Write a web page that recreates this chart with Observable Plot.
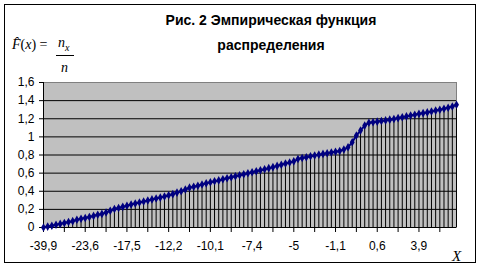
<!DOCTYPE html>
<html>
<head>
<meta charset="utf-8">
<script src="https://cdn.jsdelivr.net/npm/d3@7"></script>
<script src="https://cdn.jsdelivr.net/npm/@observablehq/plot@0.6"></script>
<style>
  body { margin: 0; background: #fff; }
  #chart { position: relative; width: 483px; height: 272px; overflow: hidden; font-family: Arial, "Liberation Sans", sans-serif; }
  #frame { position: absolute; left: 4px; top: 4px; width: 470px; height: 257px; border: 1px solid #000; pointer-events: none; }
  .title { position: absolute; left: 0; width: 542px; text-align: center; font-weight: bold; font-size: 14px; line-height: 16px; color: #000; }
  .math { position: absolute; font-family: "Liberation Serif", "Times New Roman", serif; font-style: italic; font-size: 14px; line-height: 16px; color: #000; white-space: nowrap; }
  .upright { font-style: normal; }
  #bar { position: absolute; left: 56px; top: 55px; width: 18px; height: 1px; background: #000; }
  #plot { position: absolute; left: 0; top: 72px; }
</style>
</head>
<body>
<div id="chart">
  <div class="title" style="top:12px">Рис. 2 Эмпирическая функция</div>
  <div class="title" style="top:37px">распределения</div>
  <div class="math" style="left:12px;top:37px">F&#770;<span class="upright">(</span>x<span class="upright">) =</span></div>
  <div class="math" style="left:58px;top:35px">n<sub style="font-size:10px">x</sub></div>
  <div id="bar"></div>
  <div class="math" style="left:61px;top:60px">n</div>
  <div id="plot"></div>
  <div id="frame"></div>
</div>
<script>
// Empirical distribution function values, one per sorted observation (100 points)
const fValues = [
  0.000, 0.010, 0.020, 0.030, 0.040, 0.050, 0.060, 0.070, 0.085, 0.096,
  0.105, 0.115, 0.128, 0.140, 0.150, 0.165, 0.185, 0.205, 0.215, 0.228,
  0.240, 0.254, 0.264, 0.275, 0.286, 0.298, 0.310, 0.320, 0.330, 0.342,
  0.355, 0.368, 0.385, 0.400, 0.420, 0.440, 0.450, 0.460, 0.475, 0.487,
  0.500, 0.510, 0.520, 0.532, 0.544, 0.555, 0.566, 0.577, 0.588, 0.599,
  0.610, 0.621, 0.632, 0.643, 0.655, 0.666, 0.680, 0.693, 0.706, 0.718,
  0.730, 0.755, 0.766, 0.776, 0.786, 0.795, 0.804, 0.812, 0.820, 0.828,
  0.836, 0.845, 0.860, 0.886, 0.940, 1.015, 1.070, 1.126, 1.155, 1.162,
  1.168, 1.175, 1.182, 1.190, 1.198, 1.207, 1.216, 1.226, 1.236, 1.245,
  1.254, 1.262, 1.270, 1.280, 1.290, 1.300, 1.310, 1.322, 1.335, 1.355
];

// Category labels shown on the X axis (every 10th observation)
const xLabelValues = [-39.9, -23.6, -17.5, -12.2, -10.1, -7.4, -5, -1.1, 0.6, 3.9];
const xLabelStep = 10;
const xTickStep = 5;

// Y axis ticks
const yTicks = [0, 0.2, 0.4, 0.6, 0.8, 1, 1.2, 1.4, 1.6];

const comma = v => String(v).replace(".", ",");
const data = fValues.map((v, i) => ({i, v}));
const lastIndex = fValues.length - 1;
const xTicks = d3.range(0, lastIndex, xTickStep);

const plot = Plot.plot({
  width: 483,
  height: 200,
  marginTop: 10,
  marginBottom: 45,
  marginLeft: 43,
  marginRight: 27,
  style: {fontFamily: "Arial, 'Liberation Sans', sans-serif", fontSize: "12px", color: "#000", background: "transparent"},
  x: {domain: [0, lastIndex], axis: null},
  y: {domain: [0, 1.6], axis: null},
  marks: [
    Plot.frame({fill: "#c0c0c0", stroke: "#808080"}),
    Plot.gridY(yTicks.slice(0, -1), {stroke: "#000", strokeOpacity: 1}),
    // drop lines from each point to the axis
    Plot.ruleX(data, {x: "i", y1: 0, y2: "v", stroke: "#000", strokeWidth: 1}),
    Plot.ruleY([0], {stroke: "#000"}),
    Plot.ruleX([0], {stroke: "#000"}),
    Plot.axisY(yTicks, {label: null, tickSize: 4, tickPadding: 5, tickFormat: comma, stroke: "#000"}),
    Plot.axisX(xTicks, {
      label: null, tickSize: 5, tickPadding: 9, stroke: "#000",
      tickFormat: i => i % xLabelStep === 0 ? comma(xLabelValues[i / xLabelStep]) : ""
    }),
    Plot.line(data, {x: "i", y: "v", stroke: "#000080", strokeWidth: 2}),
    Plot.dot(data, {x: "i", y: "v", symbol: "diamond", r: 2.6, fill: "#000080", stroke: "none"}),
    Plot.text(["X"], {frameAnchor: "bottom-right", dx: 0, dy: 29, lineAnchor: "middle", fontFamily: "'Liberation Serif', 'Times New Roman', serif", fontStyle: "italic", fontSize: 15, textAnchor: "middle"})
  ]
});
document.getElementById("plot").appendChild(plot);
</script>
</body>
</html>
